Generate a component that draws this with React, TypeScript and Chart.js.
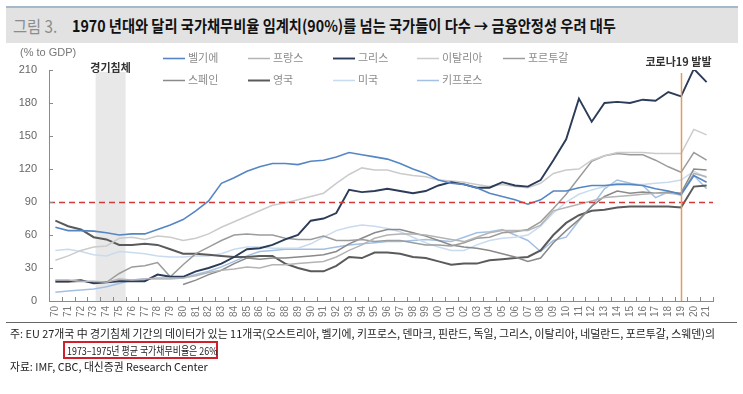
import React, { useEffect, useRef } from 'react';
import { Chart, registerables } from 'chart.js';
Chart.register(...registerables);

const FONT = '"Noto Sans CJK KR", "Noto Sans", sans-serif';
const NUM_FONT = '"Liberation Sans", Arial, sans-serif';

const years = ['70','71','72','73','74','75','76','77','78','79','80','81','82','83','84','85','86','87','88','89','90','91','92','93','94','95','96','97','98','99','00','01','02','03','04','05','06','07','08','09','10','11','12','13','14','15','16','17','18','19','20','21'];

const belgium = [67,64,64,63.5,62,60,61,61,65,69, 74,82,91,107,112,118,122,125,125,124, 127,128,131,135,133,131,129,125,120,116, 110,107,106,103,98,95,92,88,92,100, 100,103,105,105,106,106,105,102,100,97, 114,108];
const france = [19,19,18,18,17,20,19,20,21,21, 21,23,26,28,29,31,30,33,33,34, 35,36,40,46,51,57,60,61,61,60, 58,56,54,58,62,64,64,64,69,82, 85,88,91,94,95,96,97,98,98,97, 116,113];
const greece = [18,18,19,16,17,18,18,18,24,22, 22,27,30,34,40,47,48,51,56,60, 73,75,80,101,99,100,102,100,98,100, 105,108,106,103,103,108,105,104,110,128, 147,184,163,180,181,180,183,182,190,186, 211,199];
const italy = [37,41,46,49,50,57,58,56,59,58, 55,57,61,67,72,77,82,87,89,92, 95,98,107,115,121,119,119,116,114,113, 110,109,108,106,104,106,104,103,107,116, 119,120,128,132,135,135,135,134,134,134, 156,151];
const portugal = [17,17,18,17,17,25,31,32,35,22, 33,43,49,55,60,61,60,60,57,56, 56,59,55,55,56,54,55,55,53,51, 51,50,53,57,58,62,63,65,72,84, 97,112,127,132,134,133,133,128,122,117, 135,128];
const spain = [null,null,null,null,null,null,null,null,null,null, 15,19,24,28,34,39,38,39,39,40, 41,42,45,52,57,62,65,65,62,59, 55,51,49,48,46,43,40,36,39,53, 64,74,86,95,100,98,99,98,99,98, 120,119];
const uk = [73,68,65,58,56,51,51,52,51,47, 43,43,42,41,40,40,41,41,34,30, 27,27,32,40,39,44,44,43,40,39, 36,33,34,34,37,38,39,40,46,60, 71,78,82,83,85,86,86,86,86,85, 104,105];
const usa = [46,47,45,42,41,45,44,43,41,40, 40,41,41,43,47,49,49,48,48,48, 52,58,64,67,69,68,66,63,58,53, 49,46,46,51,55,57,58,60,68,80, 90,97,101,104,107,106,106,107,108,110, 118,112];
const cyprus = [8,9,10,11,13,16,19,20,20,20, 21,24,27,31,36,41,45,46,47,47, 47,47,49,51,52,53,54,54,55,56, 55,54,58,62,63,65,60,55,45,55, 58,73,86,102,110,107,105,94,99,96, 114,102];

const seriesNames = ['벨기에','프랑스','그리스','이탈리아','포르투갈','스페인','영국','미국','키프로스'];
const seriesData = [belgium, france, greece, italy, portugal, spain, uk, usa, cyprus];
const seriesColors = ['#5586c4','#b4b4b4','#2b3b58','#cbcbcb','#9c9c9c','#8a8a8a','#5a5a5a','#c9dbef','#a3c0e3'];
const seriesWidths = [1.6,1.5,1.9,1.5,1.5,1.5,2,1.5,1.5];

const yTicks = [0, 30, 60, 90, 120, 150, 180, 210];
const THRESHOLD = 90;
const COVID_YEAR = '19';
const RECESSION_FROM = 3.15; // category index units (1973..1975)
const RECESSION_TO = 5.5;

const overlay = {
  id: 'overlay',
  beforeDatasetsDraw(chart: any) {
    const { ctx, chartArea, scales } = chart;
    const x = scales.x;
    const x0 = x.getPixelForValue(RECESSION_FROM);
    const x1 = x.getPixelForValue(RECESSION_TO);
    ctx.save();
    ctx.fillStyle = '#e8e8e8';
    ctx.fillRect(x0, chartArea.top + 2, x1 - x0, chartArea.bottom - chartArea.top - 2);
    ctx.restore();
  },
  afterDatasetsDraw(chart: any) {
    const { ctx, chartArea, scales } = chart;
    const x = scales.x, y = scales.y;
    ctx.save();
    const ty = Math.round(y.getPixelForValue(THRESHOLD)) + 0.5;
    ctx.strokeStyle = '#d23a3a';
    ctx.lineWidth = 1.6;
    ctx.setLineDash([6, 4]);
    ctx.beginPath();
    ctx.moveTo(chartArea.left, ty);
    ctx.lineTo(chartArea.right, ty);
    ctx.stroke();
    ctx.setLineDash([]);
    const cx = Math.round(x.getPixelForValue(years.indexOf(COVID_YEAR))) + 0.5;
    ctx.strokeStyle = '#e39a5c';
    ctx.lineWidth = 1.5;
    ctx.beginPath();
    ctx.moveTo(cx, chartArea.top + 3);
    ctx.lineTo(cx, chartArea.bottom);
    ctx.stroke();
    ctx.strokeStyle = '#8a8a8a';
    ctx.lineWidth = 1;
    ctx.beginPath();
    yTicks.forEach(v => {
      const py = Math.round(y.getPixelForValue(v)) + 0.5;
      ctx.moveTo(chartArea.left, py);
      ctx.lineTo(chartArea.left + 4, py);
    });
    for (let i = 0; i <= years.length; i++) {
      const px = Math.round(x.getPixelForValue(i - 0.5)) + 0.5;
      ctx.moveTo(px, chartArea.bottom);
      ctx.lineTo(px, chartArea.bottom - 4);
    }
    ctx.stroke();
    ctx.fillStyle = '#333';
    ctx.font = `bold 11px ${FONT}`;
    ctx.textAlign = 'center';
    ctx.textBaseline = 'middle';
    ctx.fillText('경기침체', (x.getPixelForValue(RECESSION_FROM) + x.getPixelForValue(RECESSION_TO)) / 2, chartArea.top - 2);
    ctx.fillText('코로나19 발발', cx - 3, chartArea.top - 8);
    ctx.fillStyle = '#777';
    ctx.font = `11px ${NUM_FONT}`;
    ctx.textAlign = 'left';
    ctx.fillText('(% to GDP)', 20, 53);
    const cols = [163, 248, 333, 417, 503];
    const rows = [58, 80];
    chart.data.datasets.forEach((ds: any, i: number) => {
      const r = i < 5 ? 0 : 1;
      const c = i < 5 ? i : i - 5;
      const lx = cols[c], ly = rows[r];
      ctx.strokeStyle = ds.borderColor;
      ctx.lineWidth = ds.borderWidth;
      ctx.beginPath();
      ctx.moveTo(lx, ly + 0.5);
      ctx.lineTo(lx + 22, ly + 0.5);
      ctx.stroke();
      ctx.fillStyle = '#8c8c8c';
      ctx.font = `11px ${FONT}`;
      ctx.textAlign = 'left';
      ctx.fillText(ds.label, lx + 25, ly);
    });
    ctx.restore();
  },
};

export default function App() {
  const ref = useRef<HTMLCanvasElement>(null);
  useEffect(() => {
    document.body.style.margin = '0';
    const canvas = ref.current!;
    const chart = new Chart(canvas, {
      type: 'line',
      data: {
        labels: years,
        datasets: seriesNames.map((name, i) => ({
          label: name,
          data: seriesData[i],
          borderColor: seriesColors[i],
          backgroundColor: seriesColors[i],
          borderWidth: seriesWidths[i],
          pointRadius: 0,
          fill: false,
          tension: 0,
          spanGaps: false,
        })),
      },
      options: {
        responsive: false,
        animation: false,
        devicePixelRatio: 1,
        layout: { padding: { top: 70, right: 30, bottom: 0, left: 0 } },
        plugins: { legend: { display: false }, tooltip: { enabled: false } },
        scales: {
          x: {
            type: 'category',
            offset: true,
            grid: { display: false, drawTicks: false },
            border: { display: true, color: '#8a8a8a', width: 1 },
            ticks: { autoSkip: false, minRotation: 90, maxRotation: 90, color: '#777', padding: 5, font: { size: 10, family: NUM_FONT } },
            afterFit: (s: any) => { s.height = 93; },
          },
          y: {
            min: 0,
            max: 210,
            grid: { display: false, drawTicks: false },
            border: { display: true, color: '#8a8a8a', width: 1 },
            afterBuildTicks: (s: any) => { s.ticks = yTicks.map(v => ({ value: v })); },
            ticks: { color: '#666', padding: 12, font: { size: 11, family: NUM_FONT } },
            afterFit: (s: any) => { s.width = 49; },
          },
        },
      },
      plugins: [overlay],
    } as any);
    return () => chart.destroy();
  }, []);

  const noteStyle: any = { position: 'absolute', whiteSpace: 'nowrap', fontSize: 11, lineHeight: '16px', color: '#222', transformOrigin: 'left center' };

  return (
    <div style={{ position: 'relative', width: 743, height: 394, background: '#fff', overflow: 'hidden', fontFamily: FONT }}>
      <canvas ref={ref} width={743} height={394} style={{ position: 'absolute', left: 0, top: 0, width: 743, height: 394 }} />
      <div style={{ position: 'absolute', left: 6, top: 6, width: 732, height: 2, background: '#a6b8cb' }} />
      <div style={{ position: 'absolute', left: 6, top: 8, width: 732, height: 35, background: '#e2e2e2' }} />
      <div style={{ position: 'absolute', left: 13, top: 8, height: 35, lineHeight: '35px', whiteSpace: 'nowrap', fontSize: 17, color: '#8c8c8c', transform: 'scaleX(0.9)', transformOrigin: 'left center' }}>그림 3.</div>
      <div style={{ position: 'absolute', left: 72, top: 8, height: 35, lineHeight: '35px', whiteSpace: 'nowrap', fontSize: 16, fontWeight: 700, color: '#111', transform: 'scaleX(0.89)', transformOrigin: 'left center' }}>
        1970 년대와 달리 국가채무비율 임계치(90%)를 넘는 국가들이 다수 → 금융안정성 우려 대두
      </div>
      <div style={{ position: 'absolute', left: 6, top: 322, width: 731, height: 1, background: '#666' }} />
      <div style={{ ...noteStyle, left: 10, top: 325, transform: 'scaleX(0.99)' }}>
        주: EU 27개국 中 경기침체 기간의 데이터가 있는 11개국(오스트리아, 벨기에, 키프로스, 덴마크, 핀란드, 독일, 그리스, 이탈리아, 네덜란드, 포르투갈, 스웨덴)의
      </div>
      <div style={{ position: 'absolute', left: 63, top: 341, width: 151, height: 14, border: '2px solid #d21f2a' }} />
      <div style={{ ...noteStyle, left: 67, top: 342, transform: 'scaleX(0.81)' }}>
        1973–1975년 평균 국가채무비율은 26%
      </div>
      <div style={{ ...noteStyle, left: 10, top: 358, transform: 'scaleX(0.98)' }}>
        자료: IMF, CBC, 대신증권 Research Center
      </div>
    </div>
  );
}
